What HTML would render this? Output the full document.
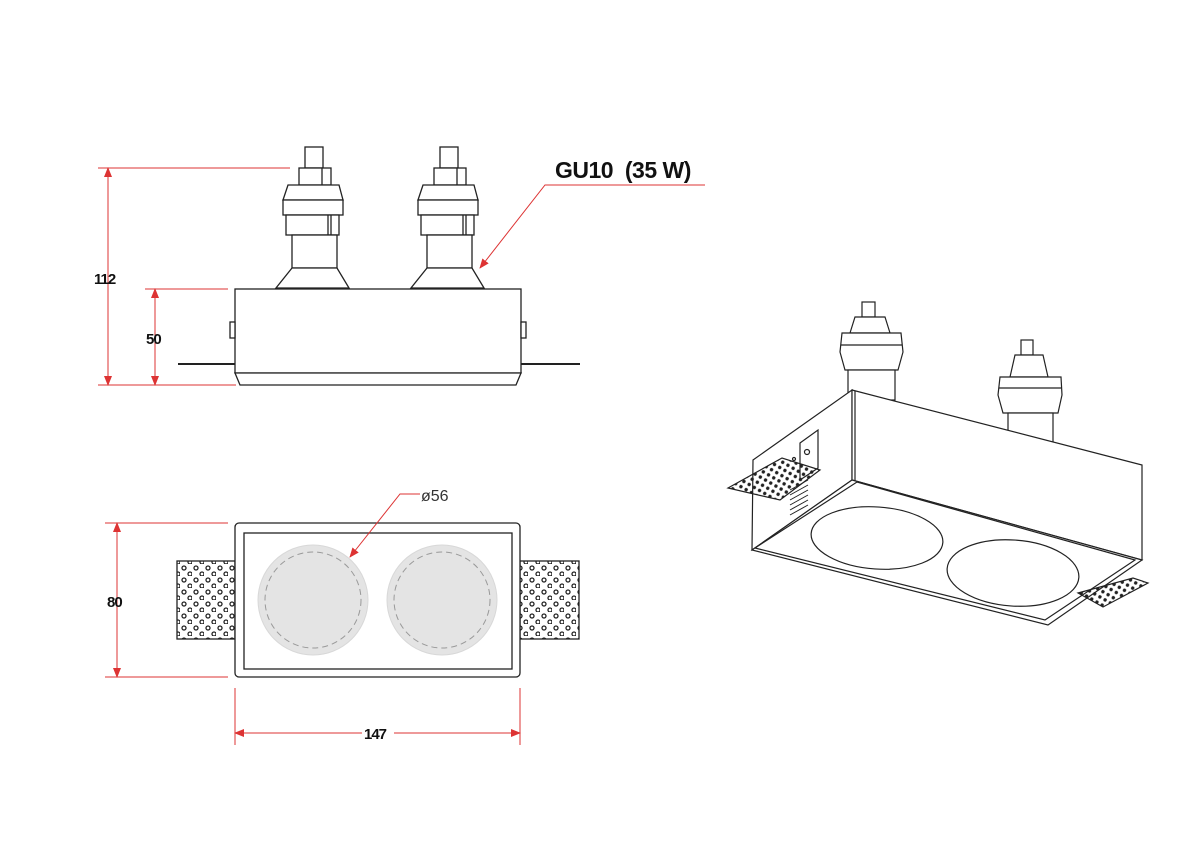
<!DOCTYPE html>
<html><head><meta charset="utf-8"><style>html,body{margin:0;padding:0;background:#fff}svg{display:block}</style></head>
<body>
<svg width="1200" height="850" viewBox="0 0 1200 850" xmlns="http://www.w3.org/2000/svg" font-family="Liberation Sans Narrow, Liberation Sans, sans-serif">
<defs>
<pattern id="perf" width="12" height="12" patternUnits="userSpaceOnUse">
<circle cx="4" cy="4" r="2" fill="none" stroke="#222" stroke-width="1.3"/>
<circle cx="10" cy="10" r="2" fill="none" stroke="#222" stroke-width="1.3"/>
</pattern>
<pattern id="perf2" width="6" height="6" patternUnits="userSpaceOnUse" patternTransform="rotate(30)">
<circle cx="3" cy="3" r="1.7" fill="#222"/>
</pattern>
<marker id="ar" markerWidth="10" markerHeight="8" refX="9" refY="4" orient="auto" markerUnits="userSpaceOnUse"><path d="M0,0 L10,4 L0,8 z" fill="#d33"/></marker>
<marker id="al" markerWidth="10" markerHeight="8" refX="1" refY="4" orient="auto" markerUnits="userSpaceOnUse"><path d="M10,0 L0,4 L10,8 z" fill="#d33"/></marker>
<g id="lamp" fill="#fff" stroke="#222" stroke-width="1.3">
<rect x="305" y="147" width="18" height="21"/>
<rect x="299" y="168" width="32" height="17"/>
<line x1="322" y1="168" x2="322" y2="185"/>
<path d="M288,185 L339,185 L343,200 L283,200 Z"/>
<rect x="283" y="200" width="60" height="15"/>
<rect x="286" y="215" width="53" height="20"/>
<line x1="328" y1="215" x2="328" y2="235"/><line x1="331" y1="215" x2="331" y2="235"/>
<rect x="292" y="235" width="45" height="33"/>
<path d="M292,268 L337,268 L349,288 L276,288 Z"/>
</g>
</defs>

<!-- SIDE VIEW -->
<g stroke="#d33" stroke-width="1" fill="none">
<line x1="98" y1="168" x2="290" y2="168"/>
<line x1="98" y1="385" x2="236" y2="385"/>
<line x1="145" y1="289" x2="228" y2="289"/>
<line x1="108" y1="168" x2="108" y2="385" marker-start="url(#al)" marker-end="url(#ar)"/>
<line x1="155" y1="289" x2="155" y2="385" marker-start="url(#al)" marker-end="url(#ar)"/>
<polyline points="705,185 545,185 480,268" marker-end="url(#ar)"/>
</g>
<use href="#lamp"/>
<use href="#lamp" transform="translate(135,0)"/>
<g fill="#fff" stroke="#222" stroke-width="1.3">
<line x1="178" y1="364" x2="580" y2="364" stroke-width="2"/>
<rect x="235" y="289" width="286" height="84"/>
<path d="M235,373 L521,373 L516,385 L240,385 Z"/>
<rect x="230" y="322" width="5" height="16"/><rect x="521" y="322" width="5" height="16"/>
</g>
<text x="555" y="178" font-size="23" font-weight="bold" fill="#111" letter-spacing="-0.5">GU10&#160; (35 W)</text>
<text x="94" y="284" font-size="15" font-weight="bold" fill="#111" letter-spacing="-1">112</text>
<text x="146" y="344" font-size="15" font-weight="bold" fill="#111" letter-spacing="-1">50</text>

<!-- BOTTOM VIEW -->
<g stroke="#222" stroke-width="1.3">
<rect x="177" y="561" width="58" height="78" fill="url(#perf)"/>
<rect x="520" y="561" width="59" height="78" fill="url(#perf)"/>
<rect x="235" y="523" width="285" height="154" rx="4" fill="#fff"/>
<rect x="244" y="533" width="268" height="136" fill="#fff"/>
</g>
<g fill="#e4e4e4" stroke="#d8d8d8">
<circle cx="313" cy="600" r="55"/><circle cx="442" cy="600" r="55"/>
</g>
<g fill="none" stroke="#999" stroke-dasharray="6,4" stroke-width="1">
<circle cx="313" cy="600" r="48"/><circle cx="442" cy="600" r="48"/>
</g>
<g stroke="#d33" stroke-width="1" fill="none">
<line x1="105" y1="523" x2="228" y2="523"/>
<line x1="105" y1="677" x2="228" y2="677"/>
<line x1="117" y1="523" x2="117" y2="677" marker-start="url(#al)" marker-end="url(#ar)"/>
<line x1="235" y1="688" x2="235" y2="745"/><line x1="520" y1="688" x2="520" y2="745"/>
<line x1="235" y1="733" x2="520" y2="733" marker-start="url(#al)" marker-end="url(#ar)"/>
<polyline points="420,494 400,494 350,557" marker-end="url(#ar)"/>
</g>
<rect x="362" y="724" width="32" height="18" fill="#fff"/>
<text x="364" y="739" font-size="15" font-weight="bold" fill="#111" letter-spacing="-1">147</text>
<text x="107" y="607" font-size="15" font-weight="bold" fill="#111" letter-spacing="-1">80</text>
<text x="421" y="501" font-size="16" fill="#333">ø56</text>

<!-- ISO VIEW -->
<g stroke="#222" stroke-width="1.2" fill="#fff">
<rect x="862" y="302" width="13" height="15"/>
<path d="M855,317 L885,317 L890,333 L850,333 Z"/>
<path d="M842,333 L901,333 L903,352 L898,370 L845,370 L840,352 Z"/>
<line x1="841" y1="345" x2="902" y2="345"/>
<rect x="848" y="370" width="47" height="30"/>
<rect x="1021" y="340" width="12" height="15"/>
<path d="M1015,355 L1043,355 L1048,377 L1010,377 Z"/>
<path d="M1000,377 L1061,377 L1062,395 L1058,413 L1003,413 L998,395 Z"/>
<line x1="999" y1="388" x2="1061" y2="388"/>
<rect x="1008" y="413" width="45" height="30"/>
<polygon points="753,460 852,390 852,480 752,550"/>
<polygon points="852,390 1142,465 1142,560 852,480"/>
<polygon points="852,480 1142,560 1048,625 752,550"/>
<polyline fill="none" points="755,548 857,482 1135,560 1045,620 755,548"/>
<line x1="855" y1="391" x2="855" y2="481"/>
<polygon points="800,443 818,430 818,468 800,480"/>
<circle cx="807" cy="452" r="2.5"/><circle cx="794" cy="459" r="1.5"/>
<g stroke-width="1"><line x1="790" y1="490" x2="808" y2="480"/><line x1="790" y1="495" x2="808" y2="485"/><line x1="790" y1="500" x2="808" y2="490"/><line x1="790" y1="505" x2="808" y2="495"/><line x1="790" y1="510" x2="808" y2="500"/><line x1="790" y1="515" x2="808" y2="505"/></g>
<polygon points="728,488 782,458 820,470 780,500" fill="url(#perf2)"/>
<polygon points="1078,593 1133,578 1148,583 1103,607" fill="url(#perf2)"/>
<ellipse cx="877" cy="538" rx="66" ry="31" transform="rotate(4 877 538)"/>
<ellipse cx="1013" cy="573" rx="66" ry="33" transform="rotate(4 1013 573)"/>
</g>
</svg>
</body></html>
